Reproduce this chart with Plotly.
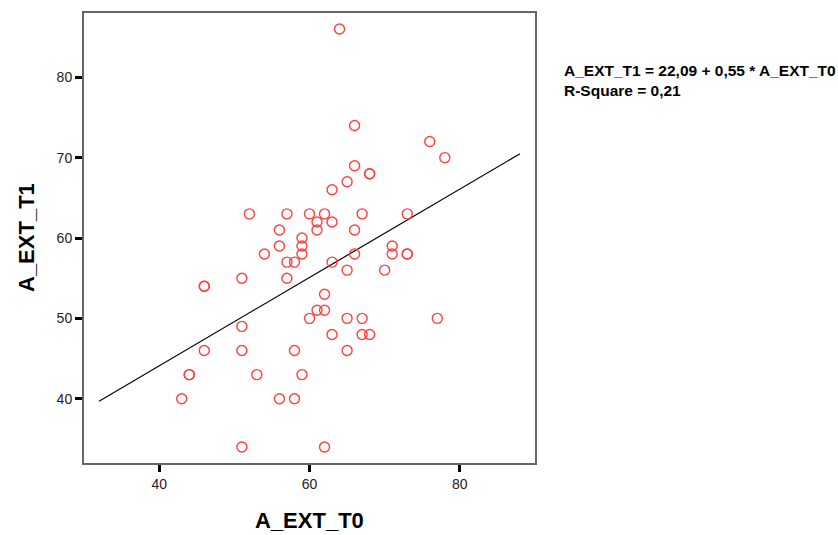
import plotly.graph_objects as go

# data
a_ext_t0 = [52, 57, 60, 56, 59, 64, 66, 76, 78, 66, 68, 68, 65, 63, 62, 61, 63, 61, 67, 73,
            66, 56, 59, 54, 59, 57, 58, 51, 57, 46, 46, 60, 51, 46, 51, 58, 44, 44, 53, 59,
            43, 56, 58, 51, 71, 71, 73, 73, 66, 63, 65, 70, 62, 61, 62, 65, 67, 77, 63, 67,
            68, 65, 62]
a_ext_t1 = [63, 63, 63, 61, 60, 86, 74, 72, 70, 69, 68, 68, 67, 66, 63, 62, 62, 61, 63, 63,
            61, 59, 59, 58, 58, 57, 57, 55, 55, 54, 54, 50, 49, 46, 46, 46, 43, 43, 43, 43,
            40, 40, 40, 34, 59, 58, 58, 58, 58, 57, 56, 56, 53, 51, 51, 50, 50, 50, 48, 48,
            48, 46, 34]

intercept = 22.09
slope = 0.55
r_square = 0.21
line_x = [32, 88]
line_y = [intercept + slope * v for v in line_x]

x_ticks = [40, 60, 80]
y_ticks = [40, 50, 60, 70, 80]

fig = go.Figure()
fig.add_trace(go.Scatter(
    x=line_x, y=line_y, mode="lines",
    line=dict(color="black", width=1.2), hoverinfo="skip", showlegend=False))
fig.add_trace(go.Scatter(
    x=a_ext_t0, y=a_ext_t1, mode="markers",
    marker=dict(symbol="circle-open", size=10, color="#ff4040", line=dict(width=1.4, color="#ff4040")),
    showlegend=False))

W, H = 838, 535
L, R, T, B = 84, 303, 13, 72
pw = W - L - R
ph = H - T - B

axis_common = dict(
    showgrid=False, zeroline=False, showline=True, mirror=True,
    linecolor="#666666", linewidth=2,
    ticks="outside", ticklen=7, tickwidth=3, tickcolor="black",
    tickfont=dict(family="Liberation Sans, Arial", size=14, color="#222222"),
)

fig.update_layout(
    width=W, height=H,
    margin=dict(l=L, r=R, t=T, b=B),
    paper_bgcolor="white", plot_bgcolor="white",
    xaxis=dict(range=[30, 90], tickvals=x_ticks, **axis_common),
    yaxis=dict(range=[32, 88], tickvals=y_ticks, **axis_common),
    annotations=[
        dict(text="<b>A_EXT_T0</b>", xref="paper", yref="paper", x=(309 - L) / pw, y=(463 - 520) / ph,
             xanchor="center", yanchor="middle", showarrow=False,
             font=dict(family="Liberation Sans, Arial", size=22, color="black")),
        dict(text="<b>A_EXT_T1</b>", xref="paper", yref="paper", x=(26 - L) / pw, y=(463 - 238) / ph,
             xanchor="center", yanchor="middle", textangle=-90, showarrow=False,
             font=dict(family="Liberation Sans, Arial", size=22, color="black")),
        dict(text=f"<b>A_EXT_T1 = {intercept:.2f} + {slope:.2f} * A_EXT_T0".replace(".", ",") + "</b>"
                  + f"<br><b>R-Square = {r_square:.2f}".replace(".", ",") + "</b>",
             xref="paper", yref="paper", x=(562 - L) / pw, y=(463 - 81) / ph,
             xanchor="left", yanchor="middle", align="left", showarrow=False,
             font=dict(family="Liberation Sans, Arial", size=15.5, color="black")),
    ],
)

fig.write_html("out.html", config={"displayModeBar": False},
               post_script="document.body.style.margin='0';")
